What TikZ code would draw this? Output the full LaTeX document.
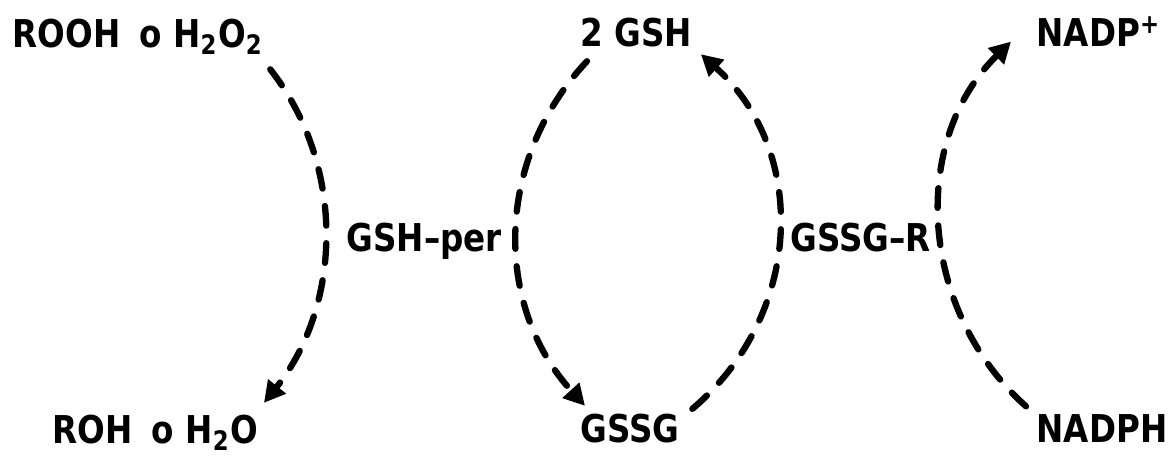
\documentclass[tikz,border=0pt]{standalone}
\usepackage{fontspec}
\setmainfont{DejaVu Sans}[FakeStretch=0.85]
\usepackage{tikz}
\usetikzlibrary{arrows.meta, positioning}

\begin{document}
\begin{tikzpicture}[x=0.01cm, y=-0.01cm,
    chem/.style={inner sep=0pt, font=\fontsize{10.9}{13}\selectfont\bfseries},
    reac/.style={line width=1.8pt, line cap=round, dash pattern=on 5.6pt off 5pt,
                 -{Triangle[length=6pt, width=6.2pt]}}]
    \useasboundingbox[fill=white] (0,0) rectangle (1173,459);

    % Substrates and products
    \node[chem, anchor=base west] (rooh)  at (12,48)   {ROOH\enspace o H\textsubscript{2}O\textsubscript{2}};
    \node[chem, anchor=base west] (roh)   at (52,444)  {ROH\enspace o H\textsubscript{2}O};
    \node[chem, anchor=base west] (gsh)   at (580,47)  {2 GSH};
    \node[chem, anchor=base west] (gssg)  at (580,443) {GSSG};
    \node[chem, anchor=base west] (nadpp) at (1036,47) {NADP\textsuperscript{+}};
    \node[chem, anchor=base west] (nadph) at (1036,443){NADPH};

    % Enzymes
    \node[chem, anchor=base west] (gshper) at (346,252) {GSH--per};
    \node[chem, anchor=base west] (gssgr)  at (790,252) {GSSG--R};

    % Peroxidase: ROOH -> ROH
    \draw[reac] ([shift={(6,14)}]rooh.south east) .. controls +(77,98) and +(77,-96) .. ([shift={(5,-12)}]roh.north east);

    % Glutathione cycle
    \draw[reac] ([shift={(7,13)}]gsh.south west) .. controls +(-93,99) and +(-91,-100) .. ([shift={(5,-8)}]gssg.north west);
    \draw[reac] ([shift={(12,-5)}]gssg.north east) .. controls +(111,-94) and +(108,97) .. ([shift={(8,6)}]gsh.south east);

    % Reductase: NADPH -> NADP+
    \draw[reac] ([shift={(-10,-8)}]nadph.north west) .. controls +(-107,-96) and +(-102,100) .. ([shift={(-25,10)}]nadpp.west);
\end{tikzpicture}
\end{document}
